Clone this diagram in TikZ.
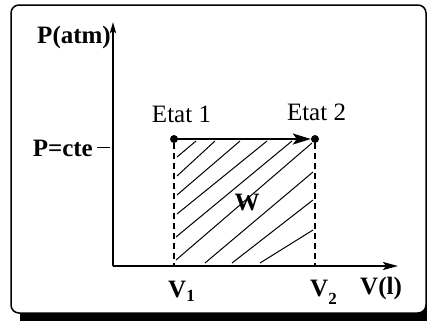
\documentclass[tikz,border=0pt]{standalone}
\usepackage{fontspec}
\setmainfont{Liberation Serif}
\usetikzlibrary{arrows.meta}
\tikzset{
  lbl/.style={inner sep=0pt, font=\fontsize{25}{30}\selectfont},
  blbl/.style={inner sep=0pt, font=\fontsize{25}{30}\selectfont\bfseries},
  statedot/.style={circle, fill=black, inner sep=0pt, minimum size=8pt},
  axisline/.style={line width=2pt},
  hatch/.style={line width=1pt},
  dashline/.style={line width=1.5pt, dash pattern=on 6pt off 4pt},
}
\newcommand{\subnum}[2]{\raisebox{-#2pt}{\fontsize{17}{20}\selectfont\bfseries #1}}
\begin{document}
\begin{tikzpicture}[x=1pt,y=-1pt]
\useasboundingbox (0,0) rectangle (427,324);
\clip (0,0) rectangle (427,324);
% frame with shadow
\fill[black] (20,13) rectangle (440,321);
\draw[line width=1.5pt, fill=white, rounded corners=8pt] (11,5) rectangle (426,313);
% coordinates
\coordinate (o) at (113,266);
\coordinate (ytop) at (113,22);
\coordinate (xend) at (398,266);
\coordinate (b1) at (174,266);
\coordinate (b2) at (315,266);
\coordinate (tk1) at (97,147);
\coordinate (tk2) at (110,147);
\node[statedot] (e1) at (174,139) {};
\node[statedot] (e2) at (315,139) {};
% hatching
\coordinate (h1a) at (177,157); \coordinate (h1b) at (196,141);
\coordinate (h2a) at (177,176); \coordinate (h2b) at (215,141);
\coordinate (h3a) at (177,195); \coordinate (h3b) at (240,141);
\coordinate (h4a) at (177,214); \coordinate (h4b) at (267,141);
\coordinate (h5a) at (176,237); \coordinate (h5b) at (292,141);
\coordinate (h6a) at (176,260); \coordinate (h6b) at (312,143);
\coordinate (h7a) at (205,263); \coordinate (h7b) at (313,172);
\coordinate (h8a) at (232,263); \coordinate (h8b) at (313,200);
\coordinate (h9a) at (260,263); \coordinate (h9b) at (313,230);
\foreach \i in {1,...,9} { \draw[hatch] (h\i a) -- (h\i b); }
% dashed verticals
\draw[dashline] (e1) -- (b1);
\draw[dashline] (e2) -- (b2);
% axes
\draw[axisline, -{Stealth[length=11pt,width=6pt,inset=2pt]}] (o) -- (ytop);
\draw[axisline, -{Stealth[length=15pt,width=8pt,inset=3pt]}] (o) -- (xend);
\draw[line width=1pt] (tk1) -- (tk2);
% process arrow
\draw[axisline, -{Stealth[length=18pt,width=11pt,inset=4pt]}] (e1.center) -- (e2.west);
% labels
\node[blbl, anchor=base east] (patm) at (111,43) {P(atm)};
\node[blbl, anchor=base east] (pcte) at (93,156) {P=cte};
\node[lbl, anchor=base] (et1) at (181.5,122) {Etat 1};
\node[lbl, anchor=base] (et2) at (316.5,120) {Etat 2};
\node[blbl, anchor=base west] (v1) at (168,297) {V\subnum{1}{4}};
\node[blbl, anchor=base west] (v2) at (310,296) {V\subnum{2}{8}};
\node[blbl, anchor=base west] (vl) at (360,294) {V(l)};
\node[blbl, anchor=base] (w) at (247,210) {W};
\end{tikzpicture}
\end{document}
